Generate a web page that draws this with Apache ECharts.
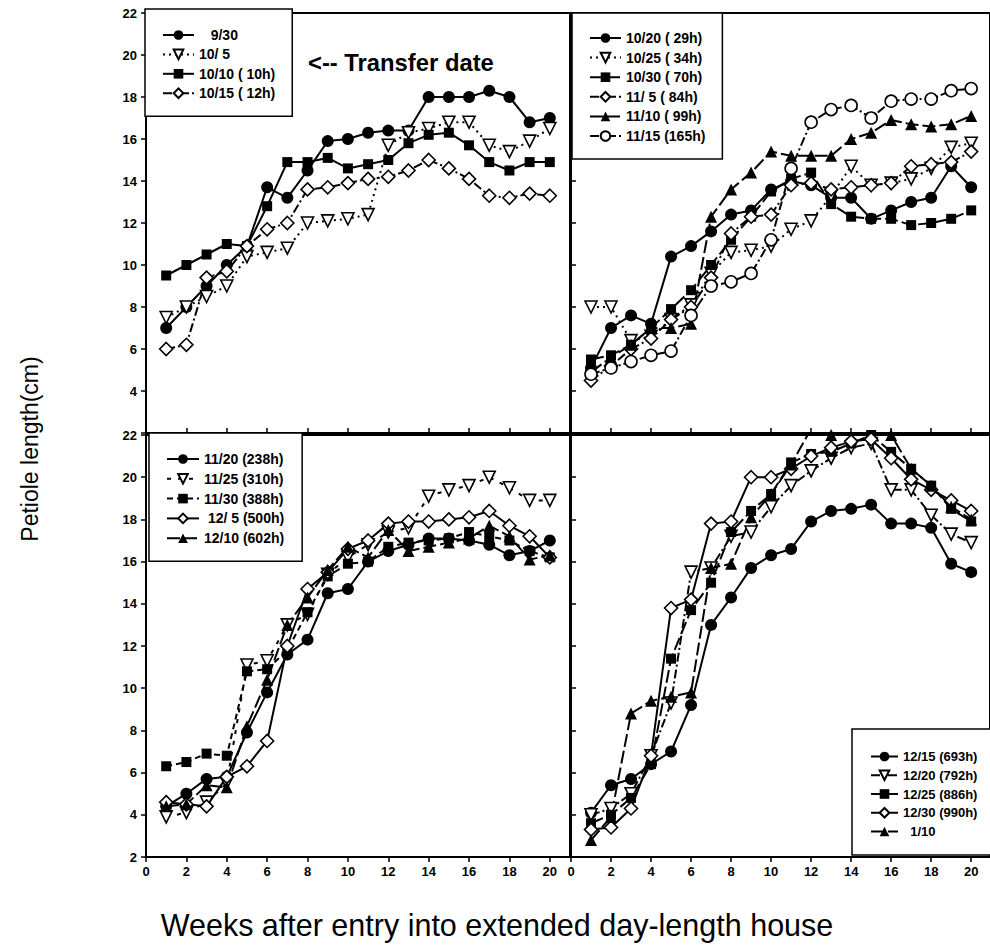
<!DOCTYPE html>
<html><head><meta charset="utf-8">
<script src="https://cdn.jsdelivr.net/npm/echarts@6/dist/echarts.min.js"></script>
<style>html,body{margin:0;padding:0;background:#fff}#c{width:990px;height:952px}</style>
</head><body><div id="c"></div>
<script>
// ---------- data ----------
const weeks = [1,2,3,4,5,6,7,8,9,10,11,12,13,14,15,16,17,18,19,20];
const xTickLabels = [0,2,4,6,8,10,12,14,16,18,20];
const yTickLabels = [2,4,6,8,10,12,14,16,18,20,22];

// panel A (top-left)
const namesA = ['9/30','10/ 5','10/10 ( 10h)','10/15 ( 12h)'];
const a0930 = [7.0, 8.0, 9.0, 10.0, 10.9, 13.7, 13.2, 14.5, 15.9, 16.0, 16.3, 16.4, 16.4, 18.0, 18.0, 18.0, 18.3, 18.0, 16.8, 17.0];
const a1005 = [7.5, 8.0, 8.5, 9.0, 10.4, 10.6, 10.8, 12.0, 12.1, 12.2, 12.4, 15.7, 16.3, 16.5, 16.8, 16.8, 15.7, 15.4, 15.9, 16.5];
const a1010 = [9.5, 10.0, 10.5, 11.0, 10.9, 12.8, 14.9, 14.9, 15.1, 14.6, 14.8, 15.0, 15.8, 16.2, 16.3, 15.7, 14.9, 14.5, 14.9, 14.9];
const a1015 = [6.0, 6.2, 9.4, 9.7, 10.9, 11.7, 12.0, 13.6, 13.7, 13.9, 14.1, 14.2, 14.5, 15.0, 14.6, 14.1, 13.3, 13.2, 13.4, 13.3];

// panel B (top-right)
const namesB = ['10/20 ( 29h)','10/25 ( 34h)','10/30 ( 70h)','11/ 5 ( 84h)','11/10 ( 99h)','11/15 (165h)'];
const b1020 = [5.1, 7.0, 7.6, 7.2, 10.4, 10.9, 11.6, 12.4, 12.6, 13.6, 14.0, 13.8, 13.2, 13.2, 12.2, 12.6, 13.0, 13.2, 14.7, 13.7];
const b1025 = [8.0, 8.0, 6.4, 6.6, 7.4, 8.1, 9.6, 10.6, 10.7, 10.9, 11.7, 12.1, 13.3, 14.7, 13.8, 13.9, 14.1, 14.6, 15.6, 15.8];
const b1030 = [5.5, 5.7, 6.2, 7.0, 7.9, 8.8, 10.0, 11.2, 12.3, 13.5, 14.1, 14.4, 12.9, 12.3, 12.2, 12.2, 11.9, 12.0, 12.2, 12.6];
const b1105 = [4.5, 5.2, 6.0, 6.5, 7.4, 8.0, 9.4, 11.5, 12.3, 12.4, 13.8, 13.9, 13.6, 13.7, 13.8, 13.9, 14.7, 14.8, 14.9, 15.4];
const b1110 = [4.9, 5.6, 6.2, 7.0, 7.0, 7.2, 12.3, 13.6, 14.4, 15.4, 15.2, 15.2, 15.2, 16.0, 16.3, 16.9, 16.7, 16.6, 16.7, 17.1];
const b1115 = [4.8, 5.1, 5.4, 5.7, 5.9, 7.6, 9.0, 9.2, 9.6, 11.2, 14.6, 16.8, 17.4, 17.6, 17.0, 17.8, 17.9, 17.9, 18.3, 18.4];

// panel C (bottom-left)
const namesC = ['11/20 (238h)','11/25 (310h)','11/30 (388h)','12/ 5 (500h)','12/10 (602h)'];
const c1120 = [4.4, 5.0, 5.7, 5.8, 7.9, 9.8, 11.6, 12.3, 14.5, 14.7, 16.0, 16.5, 16.8, 17.1, 17.1, 17.0, 16.8, 16.3, 16.5, 17.0];
const c1125 = [3.9, 4.1, 4.6, 5.5, 11.1, 11.3, 13.0, 13.5, 15.4, 16.2, 16.8, 17.4, 17.6, 19.1, 19.4, 19.6, 20.0, 19.5, 18.9, 18.9];
const c1130 = [6.3, 6.5, 6.9, 6.8, 10.8, 10.9, 11.8, 13.6, 15.3, 15.9, 16.0, 16.7, 16.9, 17.0, 17.1, 17.4, 17.2, 17.0, 16.5, 16.2];
const c1205 = [4.6, 4.5, 4.4, 5.8, 6.3, 7.5, 12.0, 14.7, 15.5, 16.6, 17.0, 17.8, 17.9, 17.9, 18.0, 18.1, 18.4, 17.7, 17.2, 16.2];
const c1210 = [4.4, 4.5, 5.4, 5.3, 8.2, 10.4, 13.0, 14.3, 15.6, 16.7, 16.2, 17.5, 16.5, 16.7, 16.9, 17.1, 17.7, 17.2, 16.1, 16.3];

// panel D (bottom-right)
const namesD = ['12/15 (693h)','12/20 (792h)','12/25 (886h)','12/30 (990h)','1/10'];
const d1215 = [4.1, 5.4, 5.7, 6.4, 7.0, 9.2, 13.0, 14.3, 15.7, 16.3, 16.6, 17.9, 18.4, 18.5, 18.7, 17.8, 17.8, 17.6, 15.9, 15.5];
const d1220 = [4.0, 4.3, 5.0, 6.8, 9.3, 15.5, 15.7, 17.2, 17.4, 18.6, 19.6, 20.3, 20.9, 21.4, 21.6, 19.4, 19.4, 18.2, 17.3, 16.9];
const d1225 = [3.6, 4.0, 4.8, 6.4, 11.4, 13.7, 15.0, 17.4, 18.4, 19.2, 20.7, 21.1, 21.2, 21.6, 22.0, 21.2, 20.4, 19.6, 18.5, 17.9];
const d1230 = [3.3, 3.4, 4.3, 6.8, 13.8, 14.2, 17.8, 17.9, 20.0, 20.0, 20.4, 21.0, 21.4, 21.7, 21.8, 20.9, 19.9, 19.4, 18.9, 18.4];
const d0110 = [2.8, 3.9, 8.8, 9.4, 9.6, 9.8, 15.7, 15.9, 18.1, 19.2, 20.6, 22.3, 22.0, 22.3, 22.3, 22.0, 20.4, 19.6, 18.6, 18.0];

// ---------- styles ----------
const FONT = '"Liberation Sans", Arial, Helvetica, sans-serif';
const SYM = {
  dot:  {symbol:'circle', size:12, fill:'#000'},
  tri:  {symbol:'triangle', size:12, fill:'#000'},
  itri: {symbol:'triangle', size:12, fill:'#fff', rotate:180},
  sq:   {symbol:'rect', size:10, fill:'#000'},
  dia:  {symbol:'path://M0,-10L10,0L0,10L-10,0Z', size:13, fill:'#fff'},
  oc:   {symbol:'circle', size:12, fill:'#fff'}
};
const DASH = {solid:'solid', dot:[2,4], dashdot:[9,3,2,3], dash:[6,4], sparse:[4,7], long:[13,4]};

function mk(name, vals, gi, s, d) {
  return {
    type:'line', name: name, xAxisIndex: gi, yAxisIndex: gi,
    data: weeks.map((w, i) => [w, vals[i]]),
    symbol: s.symbol, symbolSize: s.size, symbolRotate: s.rotate || 0,
    lineStyle: {color:'#000', width:2, type: DASH[d]},
    itemStyle: {color: s.fill, borderColor:'#000', borderWidth: s.fill === '#fff' ? 1.6 : 0},
    emphasis: {disabled:true}, clip: true, animation: false
  };
}

const series = [
  mk(namesA[0], a0930, 0, SYM.dot, 'solid'),
  mk(namesA[1], a1005, 0, SYM.itri, 'dot'),
  mk(namesA[2], a1010, 0, SYM.sq, 'solid'),
  mk(namesA[3], a1015, 0, SYM.dia, 'dashdot'),

  mk(namesB[0], b1020, 1, SYM.dot, 'solid'),
  mk(namesB[1], b1025, 1, SYM.itri, 'dot'),
  mk(namesB[2], b1030, 1, SYM.sq, 'long'),
  mk(namesB[3], b1105, 1, SYM.dia, 'dashdot'),
  mk(namesB[4], b1110, 1, SYM.tri, 'long'),
  mk(namesB[5], b1115, 1, SYM.oc, 'dashdot'),

  mk(namesC[0], c1120, 2, SYM.dot, 'solid'),
  mk(namesC[1], c1125, 2, SYM.itri, 'sparse'),
  mk(namesC[2], c1130, 2, SYM.sq, 'dash'),
  mk(namesC[3], c1205, 2, SYM.dia, 'solid'),
  mk(namesC[4], c1210, 2, SYM.tri, 'long'),

  mk(namesD[0], d1215, 3, SYM.dot, 'solid'),
  mk(namesD[1], d1220, 3, SYM.itri, 'dashdot'),
  mk(namesD[2], d1225, 3, SYM.sq, 'long'),
  mk(namesD[3], d1230, 3, SYM.dia, 'solid'),
  mk(namesD[4], d0110, 3, SYM.tri, 'long')
];

const grids = [
  {left:146, top:13, width:424, height:420},
  {left:571, top:13, width:422, height:420},
  {left:146, top:435, width:424, height:422},
  {left:571, top:435, width:422, height:422}
].map(g => Object.assign(g, {show:true, borderColor:'#000', borderWidth:2, containLabel:false}));

const xMax = [21, 20.94, 21, 20.94];
const xAxes = [0,1,2,3].map(i => ({
  gridIndex: i, type:'value', min: xTickLabels[0], max: xMax[i], interval: 2,
  axisLine: {show:true, onZero:false, lineStyle:{color:'#000', width:2}},
  axisTick: {show:true, inside: i < 2, length:5, lineStyle:{color:'#000', width:1.5}},
  axisLabel: {show: i >= 2, showMaxLabel:false, margin:8, color:'#000',
              fontFamily: FONT, fontWeight:'bold', fontSize:13,
              formatter: v => xTickLabels.indexOf(v) >= 0 ? String(v) : ''},
  splitLine: {show:false}
}));
const yAxes = [0,1,2,3].map(i => ({
  gridIndex: i, type:'value', min: yTickLabels[0], max: yTickLabels[yTickLabels.length-1], interval: 2,
  axisLine: {show:true, onZero:false, lineStyle:{color:'#000', width:2}},
  axisTick: {show:true, inside: i % 2 === 1, length:5, lineStyle:{color:'#000', width:1.5}},
  axisLabel: {show: i % 2 === 0, margin:9, color:'#000',
              fontFamily: FONT, fontWeight:'bold', fontSize:13,
              formatter: v => (i === 0 && v === 2) ? '' : String(v)},
  splitLine: {show:false}
}));

const pad = {'9/30':'   9/30', '12/ 5 (500h)':' 12/ 5 (500h)', '1/10':'  1/10'};
function lg(names, left, top, padding, itemWidth, gap, fs, boxed) {
  return {
    data: names, orient:'vertical', left: left, top: top, padding: padding,
    itemWidth: itemWidth, itemHeight: 12, itemGap: gap,
    borderColor:'#000', borderWidth: boxed ? 1.5 : 0,
    backgroundColor: boxed ? '#fff' : 'transparent', borderRadius:0,
    selectedMode:false, formatter: n => pad[n] || n,
    textStyle: {fontFamily: FONT, fontWeight:'bold', fontSize: fs, lineHeight: fs, color:'#000', padding:[0,0,0,0]}
  };
}

const option = {
  animation:false,
  backgroundColor:'#fff',
  grid: grids, xAxis: xAxes, yAxis: yAxes, series: series,
  legend: [
    lg(namesA, 145, 9, [19,17,16,17], 31, 5.4, 14, true),
    lg(namesB, 572, 13, [18,17,16,17], 31, 5.6, 14, true),
    lg(namesC, 149, 433, [19,18,16,17], 32, 5.8, 14, true),
    lg(namesD, 852, 729, [21,10,17,18], 27, 5.75, 13, false)
  ],
  graphic: [
    {type:'rect', z:3, shape:{x:852, y:729, width:170, height:126},
     style:{fill:'#fff', stroke:'#000', lineWidth:1.5}},
    {type:'text', x:30, y:449, rotation: Math.PI/2, z:10,
     style:{text:'Petiole length(cm)', fontFamily: FONT, fontSize:23, fill:'#000',
            align:'center', verticalAlign:'middle', textAlign:'center', textVerticalAlign:'middle'}},
    {type:'text', x:497, y:925, z:10,
     style:{text:'Weeks after entry into extended day-length house', fontFamily: FONT, fontSize:30.5, fill:'#000',
            align:'center', verticalAlign:'middle', textAlign:'center', textVerticalAlign:'middle'}},
    {type:'text', x:308, y:62, z:10,
     style:{text:'<-- Transfer date', fontFamily: FONT, fontSize:23.8, fontWeight:'bold', fill:'#000',
            align:'left', verticalAlign:'middle', textAlign:'left', textVerticalAlign:'middle'}}
  ]
};

const chart = echarts.init(document.getElementById('c'), null, {renderer:'svg', width:990, height:952});
chart.setOption(option);
</script></body></html>
